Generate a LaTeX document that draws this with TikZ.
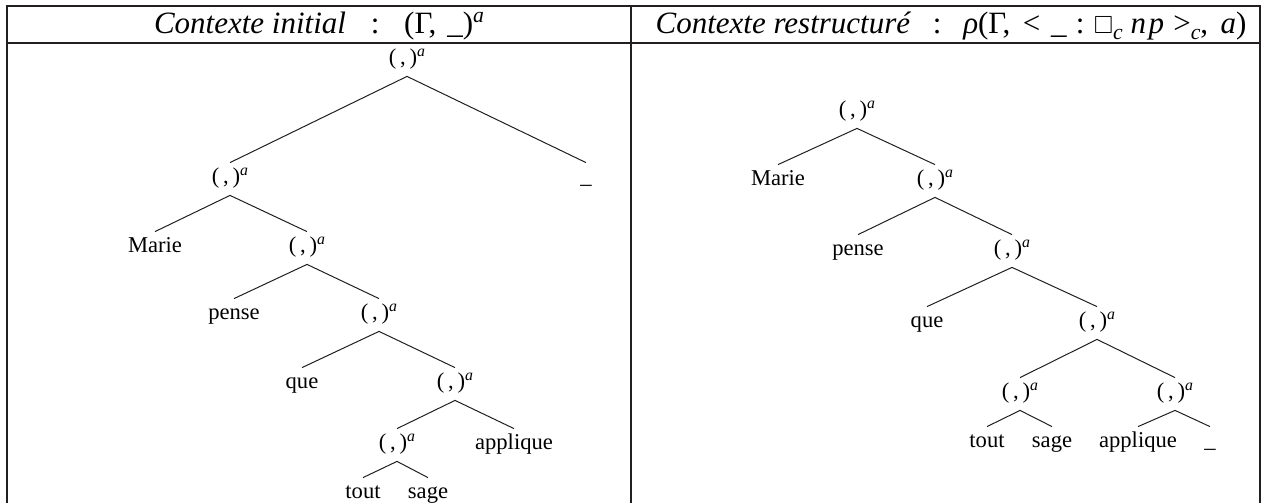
\documentclass[tikz,border=0pt]{standalone}
\usepackage{amssymb}
\usepackage{fontspec}
\setmainfont{Liberation Serif}
\newcommand\treefont{\fontsize{11.3}{13}\selectfont}
\newcommand\headfont{\fontsize{15.5}{17}\selectfont}
\newcommand\supA{\raisebox{0.34em}{\fontsize{0.7em}{0.7em}\selectfont\itshape a}}
\newcommand\subC{\raisebox{-0.2em}{\fontsize{0.7em}{0.7em}\selectfont\itshape c}}
\newcommand\pr{(\,,\,)\supA}
\definecolor{ink}{HTML}{231F20}
\tikzset{
  lbl/.style={anchor=base, inner sep=0pt, text height=10pt, text depth=6pt, font=\treefont},
  hd/.style={anchor=base, inner sep=0pt, font=\headfont},
  edge/.style={line width=0.5pt, ink},
  tablerule/.style={line width=1pt, ink}
}
\begin{document}
\begin{tikzpicture}[x=0.5pt,y=-0.5pt]
\useasboundingbox (0,0) rectangle (1267,503);
% table
\draw[tablerule] (7,503) -- (7,6) -- (1260,6) -- (1260,503);
\draw[tablerule] (7,43) -- (1260,43);
\draw[tablerule] (631,6) -- (631,503);
\node[hd] (h1) at (319,33) {\textit{Contexte initial}\hspace{0.8em}:\hspace{0.8em}(Γ,\hspace{0.35em}\_)\supA};
\node[hd] (h2) at (951,33) {\textit{Contexte restructuré}\hspace{0.7em}:\hspace{0.7em}\textit{ρ}(Γ,\hspace{0.4em}<\hspace{0.35em}\_\hspace{0.3em}:\hspace{0.3em}{\fontsize{0.8em}{1em}\selectfont$\square$}\subC\hspace{0.25em}\textit{n\kern0.08em p}\hspace{0.3em}>\subC,\hspace{0.4em}\textit{a})};
% left tree
\node[lbl] (L1) at (407,64) {\pr};
\node[lbl] (L2) at (230,183) {\pr};
\node[lbl] (Lus) at (586,183) {\_};
\node[lbl] (LMarie) at (155,252) {Marie};
\node[lbl] (L3) at (307,252) {\pr};
\node[lbl] (Lpense) at (234,319) {pense};
\node[lbl] (L4) at (379,319) {\pr};
\node[lbl] (Lque) at (302,388) {que};
\node[lbl] (L5) at (455,388) {\pr};
\node[lbl] (L6) at (397,449) {\pr};
\node[lbl] (Lapp) at (514,449) {applique};
\node[lbl] (Ltout) at (363,498) {tout};
\node[lbl] (Lsage) at (428,498) {sage};
\draw[edge] (L2.north) -- (L1.south) -- (Lus.north);
\draw[edge] (LMarie.north) -- (L2.south) -- (L3.north);
\draw[edge] (Lpense.north) -- (L3.south) -- (L4.north);
\draw[edge] (Lque.north) -- (L4.south) -- (L5.north);
\draw[edge] (L6.north) -- (L5.south) -- (Lapp.north);
\draw[edge] (Ltout.north) -- (L6.south) -- (Lsage.north);
% right tree
\node[lbl] (R1) at (857,116) {\pr};
\node[lbl] (RMarie) at (778,185) {Marie};
\node[lbl] (R2) at (935,185) {\pr};
\node[lbl] (Rpense) at (858,255) {pense};
\node[lbl] (R3) at (1012,255) {\pr};
\node[lbl] (Rque) at (927,327) {que};
\node[lbl] (R4) at (1097,327) {\pr};
\node[lbl] (R5) at (1020,398) {\pr};
\node[lbl] (R6) at (1175,398) {\pr};
\node[lbl] (Rtout) at (987,447) {tout};
\node[lbl] (Rsage) at (1052,447) {sage};
\node[lbl] (Rapp) at (1138,447) {applique};
\node[lbl] (Rus) at (1210,447) {\_};
\draw[edge] (RMarie.north) -- (R1.south) -- (R2.north);
\draw[edge] (Rpense.north) -- (R2.south) -- (R3.north);
\draw[edge] (Rque.north) -- (R3.south) -- (R4.north);
\draw[edge] (R5.north) -- (R4.south) -- (R6.north);
\draw[edge] (Rtout.north) -- (R5.south) -- (Rsage.north);
\draw[edge] (Rapp.north) -- (R6.south) -- (Rus.north);
\end{tikzpicture}
\end{document}
